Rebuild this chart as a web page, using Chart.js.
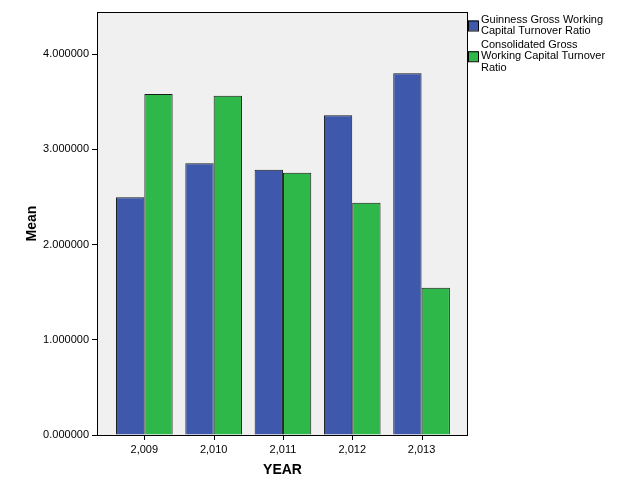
<!DOCTYPE html>
<html>
<head>
<meta charset="utf-8">
<script src="https://cdn.jsdelivr.net/npm/chart.js@4.4.1/dist/chart.umd.min.js"></script>
<style>
  html, body { margin: 0; padding: 0; background: #fff; }
  #wrap { width: 627px; height: 502px; }
</style>
</head>
<body>
<div id="wrap"><canvas id="barChart"></canvas></div>
<script>
const years = [2009, 2010, 2011, 2012, 2013];
const guinness = [2.497, 2.854, 2.787, 3.358, 3.800];
const consolidated = [3.582, 3.564, 2.755, 2.440, 1.547];
const yTicks = [0, 1, 2, 3, 4];
const legendLines = [
    ['Guinness Gross Working', 'Capital Turnover Ratio'],
    ['Consolidated Gross', 'Working Capital Turnover', 'Ratio']
];

const fontFamily = '"Liberation Sans", Arial, sans-serif';

// grey plot background, black frame, and tick marks under the year labels
const frame = {
    id: 'frame',
    beforeDatasetsDraw(chart) {
        const { ctx, chartArea: a } = chart;
        ctx.save();
        ctx.fillStyle = '#f0f0f0';
        ctx.fillRect(a.left, a.top, a.right - a.left, a.bottom - a.top);
        ctx.restore();
    },
    afterDatasetsDraw(chart) {
        const { ctx, chartArea: a } = chart;
        const xs = chart.scales.x;
        ctx.save();
        ctx.strokeStyle = '#000';
        ctx.lineWidth = 1;
        ctx.strokeRect(a.left + 0.5, a.top + 0.5, a.right - a.left - 1, a.bottom - a.top);
        ctx.beginPath();
        years.forEach(yr => {
            const px = Math.round(xs.getPixelForValue(yr)) + 0.5;
            ctx.moveTo(px, a.bottom);
            ctx.lineTo(px, a.bottom + 5);
        });
        ctx.stroke();
        ctx.restore();
    }
};

// legend on the right with wrapped text
const sideLegend = {
    id: 'sideLegend',
    afterDraw(chart) {
        const { ctx, chartArea: a } = chart;
        const lh = 11.5;
        let y = a.top + 2;
        ctx.save();
        ctx.font = '11px ' + fontFamily;
        ctx.textBaseline = 'top';
        chart.data.datasets.forEach((ds, i) => {
            const lines = legendLines[i];
            const h = lines.length * lh;
            const boxY = y + h / 2 - 5;
            ctx.fillStyle = ds.backgroundColor;
            ctx.fillRect(a.right, boxY, 10, 10);
            ctx.strokeStyle = '#000';
            ctx.strokeRect(a.right + 0.5, boxY + 0.5, 10, 10);
            ctx.fillStyle = '#000';
            lines.forEach((t, j) => ctx.fillText(t, a.right + 13, y + j * lh));
            y += h + 2;
        });
        ctx.restore();
    }
};

const barCtx = document.getElementById('barChart').getContext('2d');
const barChart = new Chart(barCtx, {
    type: 'bar',
    data: {
        datasets: [
            {
                label: 'Guinness Gross Working Capital Turnover Ratio',
                data: years.map((yr, i) => ({ x: yr, y: guinness[i] })),
                backgroundColor: '#3e58ab',
                borderColor: '#1a1a1a',
                borderWidth: 1
            },
            {
                label: 'Consolidated Gross Working Capital Turnover Ratio',
                data: years.map((yr, i) => ({ x: yr, y: consolidated[i] })),
                backgroundColor: '#2eb84a',
                borderColor: '#1a1a1a',
                borderWidth: 1
            }
        ]
    },
    options: {
        responsive: true,
        maintainAspectRatio: false,
        animation: false,
        layout: {
            padding: { top: 12, right: 159, left: 0, bottom: 0 }
        },
        datasets: {
            bar: { categoryPercentage: 0.817, barPercentage: 1.0 }
        },
        scales: {
            x: {
                type: 'linear',
                offset: false,
                min: 2008.317,
                max: 2013.67,
                grid: { display: false },
                border: { display: false },
                afterBuildTicks: (scale) => { scale.ticks = years.map(v => ({ value: v })); },
                ticks: {
                    color: '#000',
                    font: { family: fontFamily, size: 11 },
                    padding: 0,
                    maxRotation: 0,
                    callback: (v) => v.toLocaleString('en-US')
                },
                title: { display: true, text: 'YEAR', color: '#000', padding: 23, font: { family: fontFamily, size: 14, weight: 'bold' } },
                afterFit: (scale) => { scale.height = 67; }
            },
            y: {
                min: 0,
                max: 4.443,
                grid: { drawOnChartArea: false, drawTicks: true, tickLength: 5, color: '#000' },
                border: { display: false },
                afterBuildTicks: (scale) => { scale.ticks = yTicks.map(v => ({ value: v })); },
                ticks: {
                    color: '#000',
                    padding: 3,
                    font: { family: fontFamily, size: 11 },
                    callback: (v) => Number(v).toFixed(6)
                },
                title: { display: true, text: 'Mean', color: '#000', padding: 24, font: { family: fontFamily, size: 14, weight: 'bold' } },
                afterFit: (scale) => { scale.width = 97; }
            }
        },
        plugins: {
            legend: { display: false },
            tooltip: { enabled: false }
        }
    },
    plugins: [frame, sideLegend]
});
</script>
</body>
</html>
